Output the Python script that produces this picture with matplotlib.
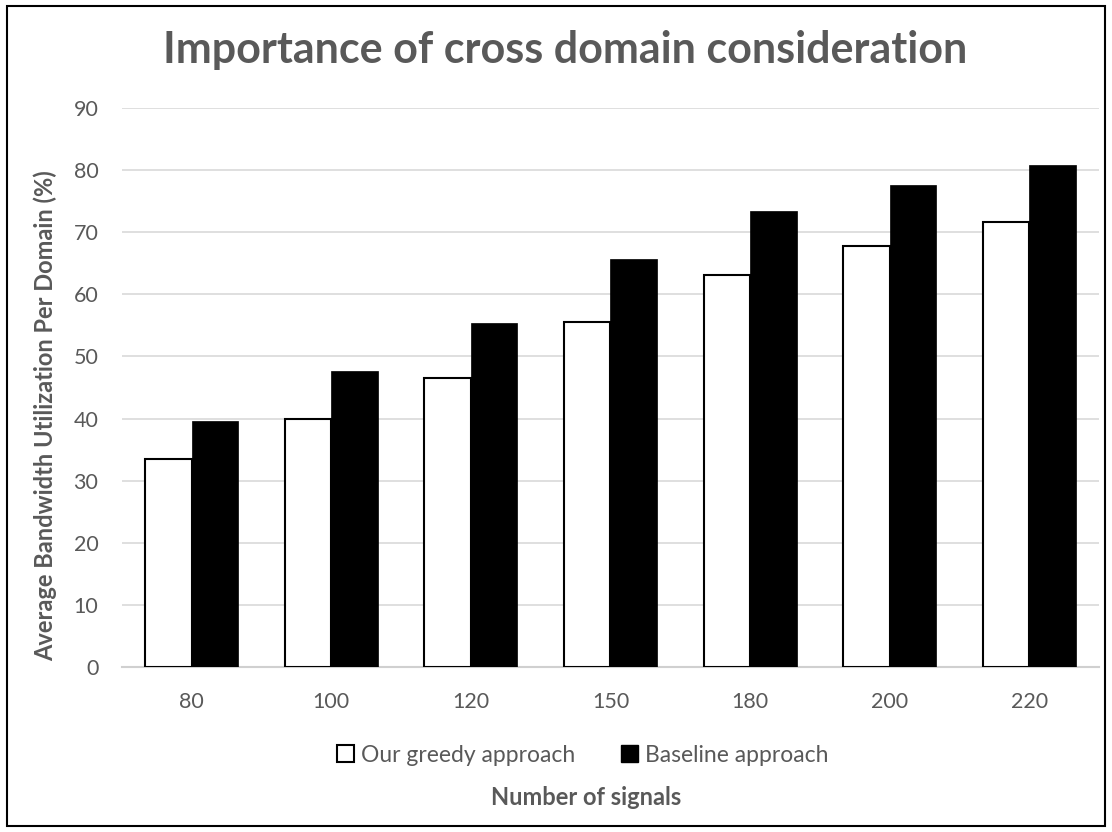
import numpy as np
import matplotlib.pyplot as plt
from matplotlib.patches import Rectangle, Patch

# bandwidth utilisation per domain for each signal count
signals = ['80', '100', '120', '150', '180', '200', '220']
greedy = [33.5, 40.0, 46.6, 55.5, 63.1, 67.7, 71.6]
baseline = [39.6, 47.6, 55.3, 65.7, 73.3, 77.6, 80.8]

grey = '#595959'
plt.rcParams['font.family'] = ['Lato', 'DejaVu Sans']

fig = plt.figure(figsize=(11.12, 8.32), dpi=100)
ax = fig.add_axes([0.1097, 0.198, 0.8786, 0.6726])

x = np.arange(len(signals))
w = 1 / 3
ax.bar(x - w / 2, greedy, w, color='white', edgecolor='black', linewidth=1.5,
       label='Our greedy approach', zorder=3)
ax.bar(x + w / 2, baseline, w, color='black', edgecolor='black', linewidth=0.5,
       label='Baseline approach', zorder=3)

ax.set_xlim(-0.5, len(signals) - 0.5)
ax.set_ylim(0, 90)
ax.set_yticks(np.arange(0, 91, 10))
ax.set_xticks(x)
ax.set_xticklabels(signals)
ax.yaxis.grid(True, color='#d9d9d9', linewidth=1.2, zorder=0)
ax.set_axisbelow(True)
for s in ['top', 'right', 'left']:
    ax.spines[s].set_visible(False)
ax.spines['bottom'].set_color('#d0d0d0')
ax.spines['bottom'].set_linewidth(1.5)
ax.tick_params(axis='both', length=0, labelsize=15.5, labelcolor=grey)
ax.tick_params(axis='x', pad=18)
ax.tick_params(axis='y', pad=17)

fig.text(0.508, 0.94, 'Importance of cross domain consideration', ha='center',
         va='center', fontsize=31, fontweight='bold', color=grey)
fig.text(0.041, 0.5, 'Average Bandwidth Utilization Per Domain (%)', rotation=90,
         ha='center', va='center', fontsize=17, fontweight='bold', color=grey)
fig.text(0.527, 0.042, 'Number of signals', ha='center', va='center',
         fontsize=17, fontweight='bold', color=grey)

handles = [Patch(facecolor='white', edgecolor='black', linewidth=1.5),
           Patch(facecolor='black', edgecolor='black')]
leg = fig.legend(handles, ['Our greedy approach', 'Baseline approach'],
                 loc='center', bbox_to_anchor=(0.524, 0.0925), ncol=2, frameon=False,
                 fontsize=16.5, handlelength=0.75, handleheight=0.75,
                 handletextpad=0.3, columnspacing=2.0)
for t in leg.get_texts():
    t.set_color(grey)

# outer chart border
fig.patches.append(Rectangle((0.0063, 0.0072), 0.9874, 0.9856, transform=fig.transFigure,
                             fill=False, edgecolor='black', linewidth=1.5))

fig.savefig('out.png', dpi=100)
